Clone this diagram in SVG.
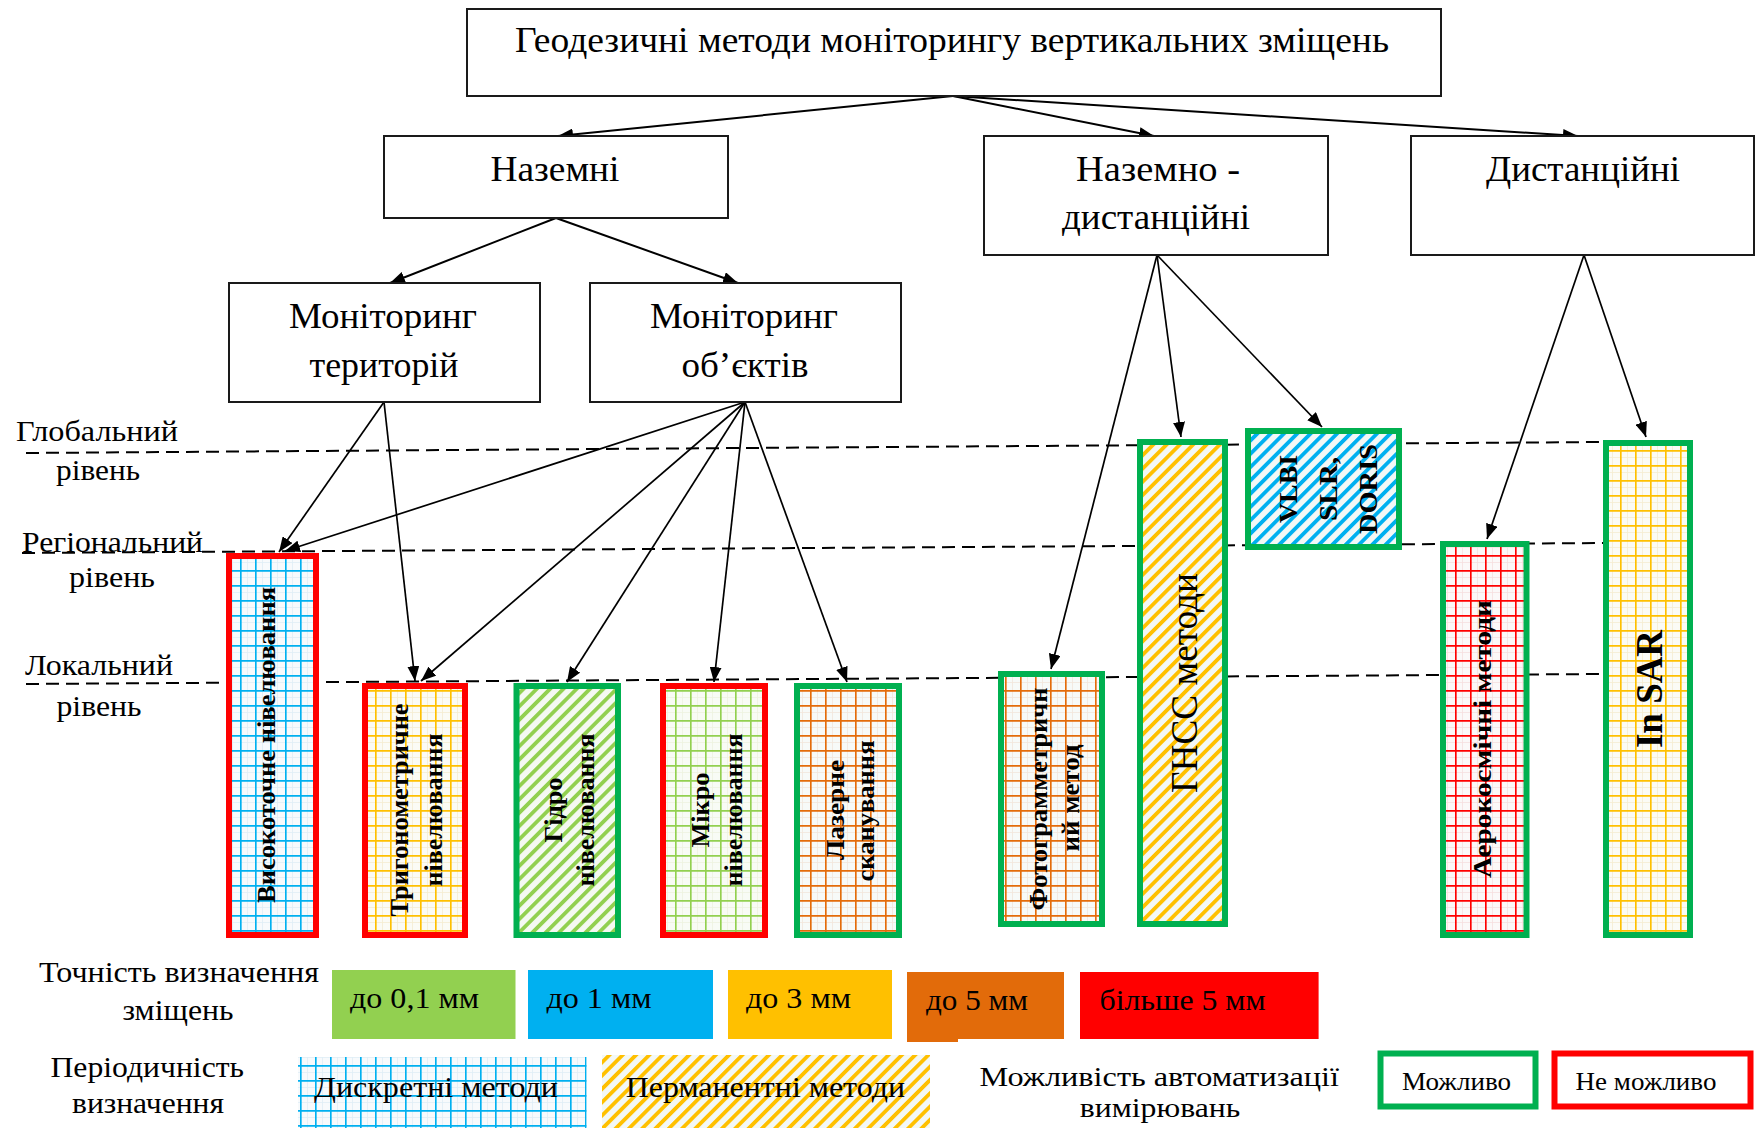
<svg xmlns="http://www.w3.org/2000/svg" width="1756" height="1128" viewBox="0 0 1756 1128" font-family="'Liberation Serif','Times New Roman','DejaVu Serif',serif">
<style>
  .t{font-family:"Liberation Serif","Times New Roman","DejaVu Serif",serif;fill:#000}
  .box{fill:#fff;stroke:#1a1a1a;stroke-width:2}
  .c36{font-size:36px;text-anchor:middle}
  .lvl{font-size:30px}
  .lg{font-size:30px}
  .vb{font-size:26px;font-weight:bold;text-anchor:middle}
  .red{stroke:#FF0000;stroke-width:6}
  .grn{stroke:#00B050;stroke-width:6}
  .dash{stroke:#000;stroke-width:2;stroke-dasharray:13 7;fill:none}
  .cn{stroke:#000;fill:none}
</style>
<defs>
  <marker id="arr" markerWidth="15" markerHeight="12" refX="15" refY="6" orient="auto" markerUnits="userSpaceOnUse">
    <path d="M0,0 L15,6 L0,12 Z" fill="#000"/>
  </marker>
  <pattern id="gBlue" width="15" height="15" patternUnits="userSpaceOnUse">
    <rect width="15" height="15" fill="#f7fafc"/>
    <path d="M0 7.5H15M7.5 0V15" stroke="#dfeef6" stroke-width="0.8"/>
    <path d="M0 0.8H15M0.8 0V15" stroke="#00B0F0" stroke-width="1.7"/>
  </pattern>
  <pattern id="gYel" width="15" height="15" patternUnits="userSpaceOnUse">
    <rect width="15" height="15" fill="#fbfbf5"/>
    <path d="M0 7.5H15M7.5 0V15" stroke="#f5ecd0" stroke-width="0.8"/>
    <path d="M0 0.8H15M0.8 0V15" stroke="#FFC000" stroke-width="1.7"/>
  </pattern>
  <pattern id="gGrn" width="15" height="15" patternUnits="userSpaceOnUse">
    <rect width="15" height="15" fill="#f8fbf5"/>
    <path d="M0 7.5H15M7.5 0V15" stroke="#eef3e0" stroke-width="0.8"/>
    <path d="M0 0.8H15M0.8 0V15" stroke="#92D050" stroke-width="1.7"/>
  </pattern>
  <pattern id="gOrg" width="15" height="15" patternUnits="userSpaceOnUse">
    <rect width="15" height="15" fill="#f7faf8"/>
    <path d="M0 7.5H15M7.5 0V15" stroke="#f3e6da" stroke-width="0.8"/>
    <path d="M0 0.8H15M0.8 0V15" stroke="#E46C0A" stroke-width="1.7"/>
  </pattern>
  <pattern id="gRed" width="15" height="15" patternUnits="userSpaceOnUse">
    <rect width="15" height="15" fill="#fbf8f8"/>
    <path d="M0 7.5H15M7.5 0V15" stroke="#f6dede" stroke-width="0.8"/>
    <path d="M0 0.8H15M0.8 0V15" stroke="#FF0000" stroke-width="1.7"/>
  </pattern>
  <pattern id="sYel" width="9.4" height="9.4" patternUnits="userSpaceOnUse" patternTransform="rotate(45)">
    <rect width="9.4" height="9.4" fill="#f3f8f6"/>
    <rect width="3.8" height="9.4" fill="#FFC000"/>
  </pattern>
  <pattern id="sBlue" width="9.4" height="9.4" patternUnits="userSpaceOnUse" patternTransform="rotate(45)">
    <rect width="9.4" height="9.4" fill="#f3f8f6"/>
    <rect width="3.8" height="9.4" fill="#00B0F0"/>
  </pattern>
  <pattern id="sGrn" width="9.4" height="9.4" patternUnits="userSpaceOnUse" patternTransform="rotate(45)">
    <rect width="9.4" height="9.4" fill="#f5f9f2"/>
    <rect width="3.8" height="9.4" fill="#92D050"/>
  </pattern>
</defs>
<rect width="1756" height="1128" fill="#fff"/>

<g id="levels">
  <line class="dash" x1="26" y1="453" x2="1603" y2="442"/>
  <line class="dash" x1="22" y1="553" x2="1603" y2="543"/>
  <line class="dash" x1="26" y1="684" x2="1603" y2="674"/>
  <text class="t lvl" x="16" y="441" textLength="162" lengthAdjust="spacingAndGlyphs">Глобальний</text>
  <text class="t lvl" x="98" y="480" text-anchor="middle" textLength="84" lengthAdjust="spacingAndGlyphs">рівень</text>
  <text class="t lvl" x="22" y="552" textLength="181" lengthAdjust="spacingAndGlyphs">Регіональний</text>
  <text class="t lvl" x="112" y="587" text-anchor="middle" textLength="86" lengthAdjust="spacingAndGlyphs">рівень</text>
  <text class="t lvl" x="25" y="675" textLength="148" lengthAdjust="spacingAndGlyphs">Локальний</text>
  <text class="t lvl" x="99" y="716" text-anchor="middle" textLength="85" lengthAdjust="spacingAndGlyphs">рівень</text>
</g>

<g id="connectors">
  <g class="cn" stroke-width="2" marker-end="url(#arr)">
    <line x1="953" y1="96" x2="558" y2="136"/>
    <line x1="953" y1="96" x2="1154" y2="136"/>
    <line x1="953" y1="96" x2="1578" y2="136"/>
    <line x1="556" y1="218" x2="390" y2="283"/>
    <line x1="556" y1="218" x2="738" y2="283"/>
  </g>
  <g class="cn" stroke-width="1.7" marker-end="url(#arr)">
    <line x1="384" y1="402" x2="279" y2="552"/>
    <line x1="384" y1="402" x2="415" y2="681"/>
    <line x1="745" y1="402" x2="285" y2="551"/>
    <line x1="745" y1="402" x2="421" y2="681"/>
    <line x1="745" y1="402" x2="567" y2="682"/>
    <line x1="745" y1="402" x2="714" y2="682"/>
    <line x1="745" y1="402" x2="847" y2="682"/>
    <line x1="1157" y1="255" x2="1051" y2="669"/>
    <line x1="1157" y1="255" x2="1181" y2="437"/>
    <line x1="1157" y1="255" x2="1322" y2="427"/>
    <line x1="1584" y1="255" x2="1487" y2="539"/>
    <line x1="1584" y1="255" x2="1646" y2="437"/>
  </g>
</g>

<g id="n-root">
  <rect class="box" x="467" y="9" width="974" height="87"/>
  <text class="t c36" x="952" y="52" textLength="874" lengthAdjust="spacingAndGlyphs">Геодезичні методи моніторингу вертикальних зміщень</text>
</g>
<g id="n-nazemni">
  <rect class="box" x="384" y="136" width="344" height="82"/>
  <text class="t c36" x="555" y="181" textLength="129" lengthAdjust="spacingAndGlyphs">Наземні</text>
</g>
<g id="n-nazemno-dyst">
  <rect class="box" x="984" y="136" width="344" height="119"/>
  <text class="t c36" x="1158" y="181" textLength="164" lengthAdjust="spacingAndGlyphs">Наземно -</text>
  <text class="t c36" x="1156" y="229" textLength="188" lengthAdjust="spacingAndGlyphs">дистанційні</text>
</g>
<g id="n-dyst">
  <rect class="box" x="1411" y="136" width="343" height="119"/>
  <text class="t c36" x="1583" y="181" textLength="194" lengthAdjust="spacingAndGlyphs">Дистанційні</text>
</g>
<g id="n-mon-ter">
  <rect class="box" x="229" y="283" width="311" height="119"/>
  <text class="t c36" x="383" y="328" textLength="188" lengthAdjust="spacingAndGlyphs">Моніторинг</text>
  <text class="t c36" x="384" y="377" textLength="149" lengthAdjust="spacingAndGlyphs">територій</text>
</g>
<g id="n-mon-ob">
  <rect class="box" x="590" y="283" width="311" height="119"/>
  <text class="t c36" x="744" y="328" textLength="188" lengthAdjust="spacingAndGlyphs">Моніторинг</text>
  <text class="t c36" x="745" y="377" textLength="127" lengthAdjust="spacingAndGlyphs">об’єктів</text>
</g>

<g id="m-vysokotochne">
  <rect class="red" x="229" y="556" width="87" height="379" fill="url(#gBlue)"/>
  <text class="t vb" transform="translate(275,745) rotate(-90)" textLength="316" lengthAdjust="spacingAndGlyphs">Високоточне нівелювання</text>
</g>
<g id="m-tryhon">
  <rect class="red" x="365" y="686" width="100" height="249" fill="url(#gYel)"/>
  <text class="t vb" transform="translate(408,810) rotate(-90)" textLength="213" lengthAdjust="spacingAndGlyphs">Тригонометричне</text>
  <text class="t vb" transform="translate(442,810) rotate(-90)" textLength="153" lengthAdjust="spacingAndGlyphs">нівелювання</text>
</g>
<g id="m-hidro">
  <rect class="grn" x="516.5" y="686" width="101.5" height="249" fill="url(#sGrn)"/>
  <text class="t vb" transform="translate(562,810) rotate(-90)" textLength="65" lengthAdjust="spacingAndGlyphs">Гідро</text>
  <text class="t vb" transform="translate(594,810) rotate(-90)" textLength="153" lengthAdjust="spacingAndGlyphs">нівелювання</text>
</g>
<g id="m-mikro">
  <rect class="red" x="663" y="686" width="102" height="249" fill="url(#gGrn)"/>
  <text class="t vb" transform="translate(709,810) rotate(-90)" textLength="75" lengthAdjust="spacingAndGlyphs">Мікро</text>
  <text class="t vb" transform="translate(742,810) rotate(-90)" textLength="153" lengthAdjust="spacingAndGlyphs">нівелювання</text>
</g>
<g id="m-lazerne">
  <rect class="grn" x="797" y="686" width="102" height="249" fill="url(#gOrg)"/>
  <text class="t vb" transform="translate(844,810) rotate(-90)" textLength="100" lengthAdjust="spacingAndGlyphs">Лазерне</text>
  <text class="t vb" transform="translate(874,811) rotate(-90)" textLength="141" lengthAdjust="spacingAndGlyphs">сканування</text>
</g>
<g id="m-foto">
  <rect class="grn" x="1001" y="674" width="101" height="250" fill="url(#gOrg)"/>
  <text class="t vb" transform="translate(1047,799) rotate(-90)" textLength="223" lengthAdjust="spacingAndGlyphs">Фотограмметричн</text>
  <text class="t vb" transform="translate(1079,798) rotate(-90)" textLength="107" lengthAdjust="spacingAndGlyphs">ий метод</text>
</g>
<g id="m-gnss">
  <rect class="grn" x="1140" y="442" width="85" height="482" fill="url(#sYel)"/>
  <text class="t" font-size="37" text-anchor="middle" transform="translate(1197,683) rotate(-90)" textLength="220" lengthAdjust="spacingAndGlyphs">ГНСС методи</text>
</g>
<g id="m-vlbi">
  <rect class="grn" x="1248" y="431" width="151" height="116" fill="url(#sBlue)"/>
  <text class="t vb" font-size="28" transform="translate(1297,489) rotate(-90)" textLength="68" lengthAdjust="spacingAndGlyphs">VLBI</text>
  <text class="t vb" font-size="28" transform="translate(1337,489) rotate(-90)" textLength="64" lengthAdjust="spacingAndGlyphs">SLR,</text>
  <text class="t vb" font-size="28" transform="translate(1377,489) rotate(-90)" textLength="90" lengthAdjust="spacingAndGlyphs">DORIS</text>
</g>
<g id="m-aero">
  <rect class="grn" x="1443" y="544" width="83.5" height="391" fill="url(#gRed)"/>
  <text class="t vb" transform="translate(1491,739) rotate(-90)" textLength="278" lengthAdjust="spacingAndGlyphs">Аерокосмічні методи</text>
</g>
<g id="m-insar">
  <rect class="grn" x="1606" y="443" width="84" height="492" fill="url(#gYel)"/>
  <text class="t" font-size="37" font-weight="bold" text-anchor="middle" transform="translate(1662,689) rotate(-90)" textLength="118" lengthAdjust="spacingAndGlyphs">In SAR</text>
</g>

<g id="legend-accuracy">
  <text class="t lg" x="39" y="982" textLength="280" lengthAdjust="spacingAndGlyphs">Точність визначення</text>
  <text class="t lg" x="178" y="1020" text-anchor="middle" textLength="111" lengthAdjust="spacingAndGlyphs">зміщень</text>
  <rect x="332" y="970" width="183.5" height="69" fill="#92D050"/>
  <text class="t lg" x="350" y="1008" textLength="129" lengthAdjust="spacingAndGlyphs">до 0,1 мм</text>
  <rect x="528" y="970" width="185" height="69" fill="#00B0F0"/>
  <text class="t lg" x="546.5" y="1008" textLength="105" lengthAdjust="spacingAndGlyphs">до 1 мм</text>
  <rect x="728" y="970" width="164" height="69" fill="#FFC000"/>
  <text class="t lg" x="746" y="1008" textLength="105" lengthAdjust="spacingAndGlyphs">до 3 мм</text>
  <rect x="907" y="972" width="157" height="67" fill="#E26B0A"/>
  <rect x="907" y="1038" width="51" height="4" fill="#E26B0A"/>
  <text class="t lg" x="926" y="1010" textLength="102" lengthAdjust="spacingAndGlyphs">до 5 мм</text>
  <rect x="1080" y="972" width="238.6" height="67" fill="#FF0000"/>
  <text class="t lg" x="1099.6" y="1010" textLength="166" lengthAdjust="spacingAndGlyphs">більше 5 мм</text>
</g>

<g id="legend-period">
  <text class="t lg" x="50.5" y="1077" textLength="193.5" lengthAdjust="spacingAndGlyphs">Періодичність</text>
  <text class="t lg" x="148" y="1113" text-anchor="middle" textLength="152" lengthAdjust="spacingAndGlyphs">визначення</text>
  <rect x="298" y="1057" width="288.6" height="71" fill="url(#gBlue)"/>
  <text class="t lg" x="314" y="1097" textLength="244" lengthAdjust="spacingAndGlyphs">Дискретні методи</text>
  <rect x="602" y="1055" width="328" height="73" fill="url(#sYel)"/>
  <text class="t lg" x="625.7" y="1097" textLength="279.3" lengthAdjust="spacingAndGlyphs">Перманентні методи</text>
</g>

<g id="legend-auto">
  <text class="t" font-size="27" x="979.5" y="1086" textLength="359.5" lengthAdjust="spacingAndGlyphs">Можливість автоматизації</text>
  <text class="t" font-size="27" x="1160" y="1117" text-anchor="middle" textLength="160.5" lengthAdjust="spacingAndGlyphs">вимірювань</text>
  <rect class="grn" x="1380.5" y="1053.5" width="155" height="53" fill="#fff" stroke-width="5"/>
  <text class="t" font-size="26" x="1402" y="1090" textLength="109" lengthAdjust="spacingAndGlyphs">Можливо</text>
  <rect class="red" x="1554.5" y="1053.5" width="196" height="53" fill="#fff" stroke-width="5"/>
  <text class="t" font-size="26" x="1575.6" y="1090" textLength="140.8" lengthAdjust="spacingAndGlyphs">Не можливо</text>
</g>
</svg>
